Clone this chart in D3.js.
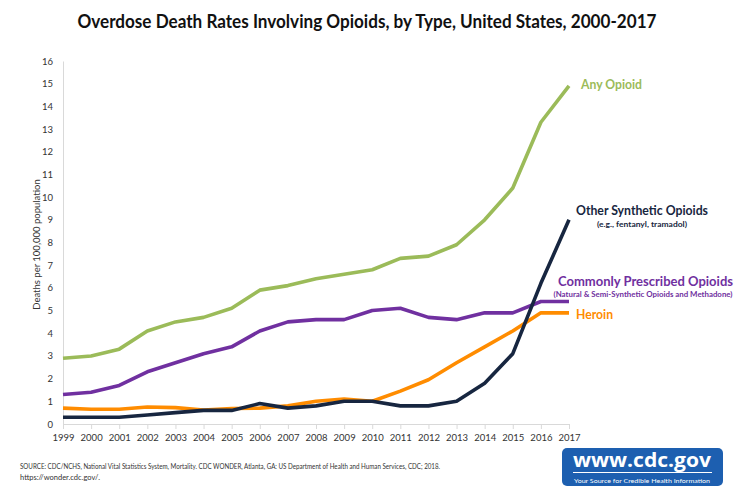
<!DOCTYPE html>
<html><head><meta charset="utf-8">
<script src="https://cdn.jsdelivr.net/npm/d3@7"></script>
<style>
html,body{margin:0;padding:0;background:#fff;}
svg{display:block;font-family:Lato,"Open Sans",sans-serif;}
</style></head>
<body>
<svg id="chart" width="736" height="496"></svg>
<script>
const years = [1999,2000,2001,2002,2003,2004,2005,2006,2007,2008,2009,2010,2011,2012,2013,2014,2015,2016,2017];
const anyOpioid = [2.9,3.0,3.3,4.1,4.5,4.7,5.1,5.9,6.1,6.4,6.6,6.8,7.3,7.4,7.9,9.0,10.4,13.3,14.9];
const commonlyPrescribed = [1.3,1.4,1.7,2.3,2.7,3.1,3.4,4.1,4.5,4.6,4.6,5.0,5.1,4.7,4.6,4.9,4.9,5.4,5.4];
const heroin = [0.7,0.65,0.65,0.75,0.72,0.62,0.68,0.7,0.8,1.0,1.1,1.0,1.45,1.95,2.7,3.4,4.1,4.9,4.9];
const otherSynthetic = [0.3,0.3,0.3,0.4,0.5,0.6,0.6,0.9,0.7,0.8,1.0,1.0,0.8,0.8,1.0,1.8,3.1,6.2,9.0];
const yTicks = [0,1,2,3,4,5,6,7,8,9,10,11,12,13,14,15,16];

const seriesList = [
  {name:"Heroin", values:heroin, color:"#ff8c00"},
  {name:"Commonly Prescribed Opioids", values:commonlyPrescribed, color:"#7030a0"},
  {name:"Other Synthetic Opioids", values:otherSynthetic, color:"#172640"},
  {name:"Any Opioid", values:anyOpioid, color:"#9bbb59"}
];

const svg = d3.select("#chart");
const pLeft = 63, pRight = 569, pTop = 61, pBottom = 424;
const x = d3.scalePoint().domain(years).range([pLeft, pRight]);
const y = d3.scaleLinear().domain([0,16]).range([pBottom, pTop]);

// title
svg.append("text").attr("x", 367).attr("y", 28).attr("text-anchor","middle")
  .attr("font-size", 18).attr("font-weight","bold").attr("fill","#111")
  .attr("textLength", 579).attr("lengthAdjust","spacingAndGlyphs")
  .text("Overdose Death Rates Involving Opioids, by Type, United States, 2000-2017");

// y axis
const yAxis = d3.axisLeft(y).tickValues(yTicks).tickSize(0).tickPadding(10);
const gy = svg.append("g").attr("transform",`translate(${pLeft},0)`).call(yAxis);
gy.select(".domain").attr("stroke","#d9d9d9");
gy.selectAll("text").attr("font-size",9.5).attr("fill","#333").attr("font-family","Lato,'Open Sans',sans-serif");

// x axis
const xAxis = d3.axisBottom(x).tickSize(5).tickPadding(5);
const gx = svg.append("g").attr("transform",`translate(0,${pBottom})`).call(xAxis);
gx.select(".domain").attr("stroke","#d9d9d9");
gx.selectAll(".tick line").attr("stroke","#d9d9d9");
gx.selectAll("text").attr("font-size",9.5).attr("fill","#333").attr("font-family","Lato,'Open Sans',sans-serif");

// y label
svg.append("text").attr("transform",`translate(40,${(pTop+pBottom)/2+2}) rotate(-90)`)
  .attr("text-anchor","middle").attr("font-size",9.5).attr("fill","#333")
  .text("Deaths per 100,000 population");

// lines
const line = d3.line().x((d,i)=>x(years[i])).y(d=>y(d));
svg.append("g").selectAll("path").data(seriesList).join("path")
  .attr("d", d=>line(d.values)).attr("fill","none")
  .attr("stroke", d=>d.color).attr("stroke-width",3.6)
  .attr("stroke-linejoin","round");

// labels
function lbl(xp, yp, txt, size, color, anchor, len){
  const t = svg.append("text").attr("x",xp).attr("y",yp).attr("font-size",size)
    .attr("font-weight","bold").attr("fill",color).attr("text-anchor",anchor||"start").text(txt);
  if(len) t.attr("textLength",len).attr("lengthAdjust","spacingAndGlyphs");
}
lbl(581, 89, "Any Opioid", 13, "#9bbb59", "start", 61);
lbl(576, 215, "Other Synthetic Opioids", 13, "#172640", "start", 132);
lbl(642, 227, "(e.g., fentanyl, tramadol)", 7.5, "#172640", "middle", 90);
lbl(558, 286, "Commonly Prescribed Opioids", 13, "#7030a0", "start", 175);
lbl(643, 297, "(Natural & Semi-Synthetic Opioids and Methadone)", 7, "#7030a0", "middle", 179);
lbl(576, 319, "Heroin", 13, "#ff8c00", "start", 37);

// source
svg.append("text").attr("x",20).attr("y",469).attr("font-size",7.5).attr("fill","#333")
  .attr("textLength",420).attr("lengthAdjust","spacingAndGlyphs")
  .text("SOURCE: CDC/NCHS, National Vital Statistics System, Mortality. CDC WONDER, Atlanta, GA: US Department of Health and Human Services, CDC; 2018.");
svg.append("text").attr("x",20).attr("y",480).attr("font-size",7.5).attr("fill","#333")
  .text("https://wonder.cdc.gov/.");

// logo
const lg = svg.append("g");
lg.append("rect").attr("x",562).attr("y",448).attr("width",161).attr("height",38).attr("rx",5).attr("fill","#1d5fb0");
lg.append("text").attr("x",642).attr("y",467).attr("text-anchor","middle").attr("font-size",20)
  .attr("font-weight","bold").attr("fill","#fff").attr("textLength",138).attr("lengthAdjust","spacingAndGlyphs")
  .attr("font-family","'Open Sans',sans-serif").text("www.cdc.gov");
lg.append("line").attr("x1",573).attr("x2",712).attr("y1",472.5).attr("y2",472.5).attr("stroke","#fff").attr("stroke-width",1.2);
lg.append("text").attr("x",642).attr("y",482.5).attr("text-anchor","middle").attr("font-size",6.5)
  .attr("fill","#fff").attr("textLength",136).attr("lengthAdjust","spacingAndGlyphs")
  .text("Your Source for Credible Health Information");
</script>
</body></html>
